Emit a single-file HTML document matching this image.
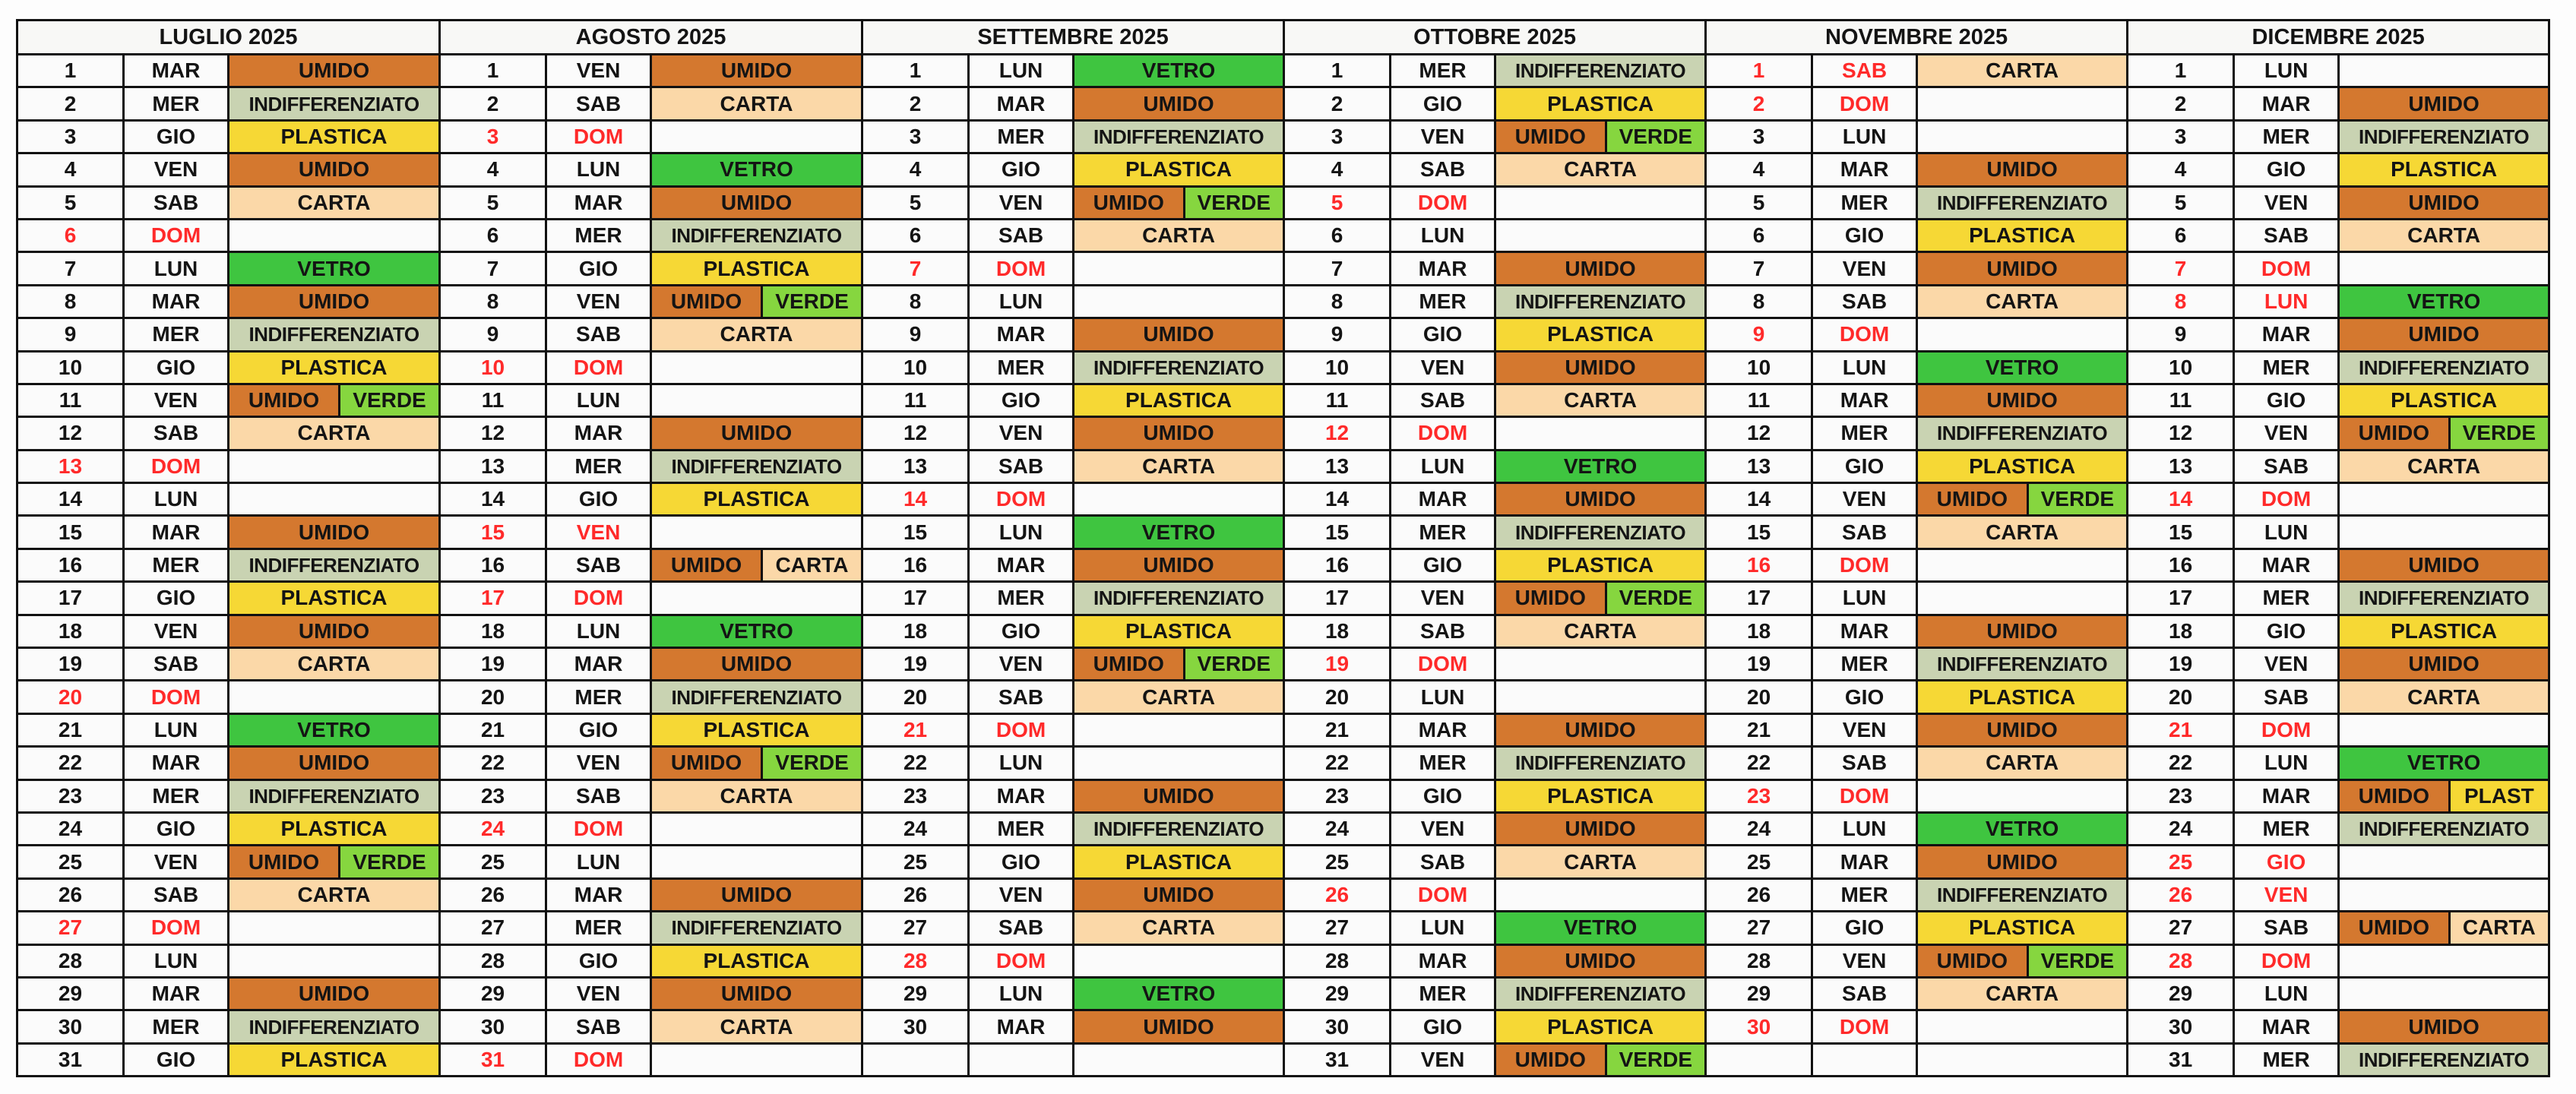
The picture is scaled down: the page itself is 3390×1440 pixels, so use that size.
<!DOCTYPE html>
<html><head><meta charset="utf-8"><style>
html,body{margin:0;padding:0;background:#fdfdfd;width:3390px;height:1440px;overflow:hidden}
table{position:absolute;left:21px;top:25px;width:3333px;height:1390px;border-collapse:collapse;table-layout:fixed;font-family:"Liberation Sans Narrow","Liberation Sans",sans-serif;font-weight:bold;color:#141414}
td{border:3px solid #111;padding:0;text-align:center;font-size:28px;line-height:1;overflow:hidden;white-space:nowrap;background:#fbfbfb}
tr{height:43.4px}
tr.h{height:45px}
tr.h td{font-size:29px;background:#f8f8f6}
.r{color:#ff2a2a}
.u{background:#d4782f}
.i{background:#c9d3b2;font-size:26px;letter-spacing:-0.5px}
.p{background:#f6d835}
.c{background:#fbd8a8}
.v{background:#3fc540}
.g{background:#86d63f}
.s{display:flex;height:100%;align-items:stretch}
.s b{display:flex;align-items:center;justify-content:center;flex:0 0 52%}
.s b+b{flex:1;border-left:3px solid #111}
</style></head><body>
<table>
<colgroup>
<col style="width:140px"><col style="width:138px"><col style="width:278px">
<col style="width:140px"><col style="width:138px"><col style="width:278px">
<col style="width:140px"><col style="width:138px"><col style="width:277px">
<col style="width:140px"><col style="width:138px"><col style="width:277px">
<col style="width:140px"><col style="width:138px"><col style="width:277px">
<col style="width:140px"><col style="width:138px"><col style="width:277px">
</colgroup>
<tr class="h"><td colspan="3">LUGLIO 2025</td><td colspan="3">AGOSTO 2025</td><td colspan="3">SETTEMBRE 2025</td><td colspan="3">OTTOBRE 2025</td><td colspan="3">NOVEMBRE 2025</td><td colspan="3">DICEMBRE 2025</td></tr>
<tr><td>1</td><td>MAR</td><td class="u">UMIDO</td><td>1</td><td>VEN</td><td class="u">UMIDO</td><td>1</td><td>LUN</td><td class="v">VETRO</td><td>1</td><td>MER</td><td class="i">INDIFFERENZIATO</td><td class="r">1</td><td class="r">SAB</td><td class="c">CARTA</td><td>1</td><td>LUN</td><td></td></tr>
<tr><td>2</td><td>MER</td><td class="i">INDIFFERENZIATO</td><td>2</td><td>SAB</td><td class="c">CARTA</td><td>2</td><td>MAR</td><td class="u">UMIDO</td><td>2</td><td>GIO</td><td class="p">PLASTICA</td><td class="r">2</td><td class="r">DOM</td><td></td><td>2</td><td>MAR</td><td class="u">UMIDO</td></tr>
<tr><td>3</td><td>GIO</td><td class="p">PLASTICA</td><td class="r">3</td><td class="r">DOM</td><td></td><td>3</td><td>MER</td><td class="i">INDIFFERENZIATO</td><td>3</td><td>VEN</td><td><div class="s"><b class="u">UMIDO</b><b class="g">VERDE</b></div></td><td>3</td><td>LUN</td><td></td><td>3</td><td>MER</td><td class="i">INDIFFERENZIATO</td></tr>
<tr><td>4</td><td>VEN</td><td class="u">UMIDO</td><td>4</td><td>LUN</td><td class="v">VETRO</td><td>4</td><td>GIO</td><td class="p">PLASTICA</td><td>4</td><td>SAB</td><td class="c">CARTA</td><td>4</td><td>MAR</td><td class="u">UMIDO</td><td>4</td><td>GIO</td><td class="p">PLASTICA</td></tr>
<tr><td>5</td><td>SAB</td><td class="c">CARTA</td><td>5</td><td>MAR</td><td class="u">UMIDO</td><td>5</td><td>VEN</td><td><div class="s"><b class="u">UMIDO</b><b class="g">VERDE</b></div></td><td class="r">5</td><td class="r">DOM</td><td></td><td>5</td><td>MER</td><td class="i">INDIFFERENZIATO</td><td>5</td><td>VEN</td><td class="u">UMIDO</td></tr>
<tr><td class="r">6</td><td class="r">DOM</td><td></td><td>6</td><td>MER</td><td class="i">INDIFFERENZIATO</td><td>6</td><td>SAB</td><td class="c">CARTA</td><td>6</td><td>LUN</td><td></td><td>6</td><td>GIO</td><td class="p">PLASTICA</td><td>6</td><td>SAB</td><td class="c">CARTA</td></tr>
<tr><td>7</td><td>LUN</td><td class="v">VETRO</td><td>7</td><td>GIO</td><td class="p">PLASTICA</td><td class="r">7</td><td class="r">DOM</td><td></td><td>7</td><td>MAR</td><td class="u">UMIDO</td><td>7</td><td>VEN</td><td class="u">UMIDO</td><td class="r">7</td><td class="r">DOM</td><td></td></tr>
<tr><td>8</td><td>MAR</td><td class="u">UMIDO</td><td>8</td><td>VEN</td><td><div class="s"><b class="u">UMIDO</b><b class="g">VERDE</b></div></td><td>8</td><td>LUN</td><td></td><td>8</td><td>MER</td><td class="i">INDIFFERENZIATO</td><td>8</td><td>SAB</td><td class="c">CARTA</td><td class="r">8</td><td class="r">LUN</td><td class="v">VETRO</td></tr>
<tr><td>9</td><td>MER</td><td class="i">INDIFFERENZIATO</td><td>9</td><td>SAB</td><td class="c">CARTA</td><td>9</td><td>MAR</td><td class="u">UMIDO</td><td>9</td><td>GIO</td><td class="p">PLASTICA</td><td class="r">9</td><td class="r">DOM</td><td></td><td>9</td><td>MAR</td><td class="u">UMIDO</td></tr>
<tr><td>10</td><td>GIO</td><td class="p">PLASTICA</td><td class="r">10</td><td class="r">DOM</td><td></td><td>10</td><td>MER</td><td class="i">INDIFFERENZIATO</td><td>10</td><td>VEN</td><td class="u">UMIDO</td><td>10</td><td>LUN</td><td class="v">VETRO</td><td>10</td><td>MER</td><td class="i">INDIFFERENZIATO</td></tr>
<tr><td>11</td><td>VEN</td><td><div class="s"><b class="u">UMIDO</b><b class="g">VERDE</b></div></td><td>11</td><td>LUN</td><td></td><td>11</td><td>GIO</td><td class="p">PLASTICA</td><td>11</td><td>SAB</td><td class="c">CARTA</td><td>11</td><td>MAR</td><td class="u">UMIDO</td><td>11</td><td>GIO</td><td class="p">PLASTICA</td></tr>
<tr><td>12</td><td>SAB</td><td class="c">CARTA</td><td>12</td><td>MAR</td><td class="u">UMIDO</td><td>12</td><td>VEN</td><td class="u">UMIDO</td><td class="r">12</td><td class="r">DOM</td><td></td><td>12</td><td>MER</td><td class="i">INDIFFERENZIATO</td><td>12</td><td>VEN</td><td><div class="s"><b class="u">UMIDO</b><b class="g">VERDE</b></div></td></tr>
<tr><td class="r">13</td><td class="r">DOM</td><td></td><td>13</td><td>MER</td><td class="i">INDIFFERENZIATO</td><td>13</td><td>SAB</td><td class="c">CARTA</td><td>13</td><td>LUN</td><td class="v">VETRO</td><td>13</td><td>GIO</td><td class="p">PLASTICA</td><td>13</td><td>SAB</td><td class="c">CARTA</td></tr>
<tr><td>14</td><td>LUN</td><td></td><td>14</td><td>GIO</td><td class="p">PLASTICA</td><td class="r">14</td><td class="r">DOM</td><td></td><td>14</td><td>MAR</td><td class="u">UMIDO</td><td>14</td><td>VEN</td><td><div class="s"><b class="u">UMIDO</b><b class="g">VERDE</b></div></td><td class="r">14</td><td class="r">DOM</td><td></td></tr>
<tr><td>15</td><td>MAR</td><td class="u">UMIDO</td><td class="r">15</td><td class="r">VEN</td><td></td><td>15</td><td>LUN</td><td class="v">VETRO</td><td>15</td><td>MER</td><td class="i">INDIFFERENZIATO</td><td>15</td><td>SAB</td><td class="c">CARTA</td><td>15</td><td>LUN</td><td></td></tr>
<tr><td>16</td><td>MER</td><td class="i">INDIFFERENZIATO</td><td>16</td><td>SAB</td><td><div class="s"><b class="u">UMIDO</b><b class="c">CARTA</b></div></td><td>16</td><td>MAR</td><td class="u">UMIDO</td><td>16</td><td>GIO</td><td class="p">PLASTICA</td><td class="r">16</td><td class="r">DOM</td><td></td><td>16</td><td>MAR</td><td class="u">UMIDO</td></tr>
<tr><td>17</td><td>GIO</td><td class="p">PLASTICA</td><td class="r">17</td><td class="r">DOM</td><td></td><td>17</td><td>MER</td><td class="i">INDIFFERENZIATO</td><td>17</td><td>VEN</td><td><div class="s"><b class="u">UMIDO</b><b class="g">VERDE</b></div></td><td>17</td><td>LUN</td><td></td><td>17</td><td>MER</td><td class="i">INDIFFERENZIATO</td></tr>
<tr><td>18</td><td>VEN</td><td class="u">UMIDO</td><td>18</td><td>LUN</td><td class="v">VETRO</td><td>18</td><td>GIO</td><td class="p">PLASTICA</td><td>18</td><td>SAB</td><td class="c">CARTA</td><td>18</td><td>MAR</td><td class="u">UMIDO</td><td>18</td><td>GIO</td><td class="p">PLASTICA</td></tr>
<tr><td>19</td><td>SAB</td><td class="c">CARTA</td><td>19</td><td>MAR</td><td class="u">UMIDO</td><td>19</td><td>VEN</td><td><div class="s"><b class="u">UMIDO</b><b class="g">VERDE</b></div></td><td class="r">19</td><td class="r">DOM</td><td></td><td>19</td><td>MER</td><td class="i">INDIFFERENZIATO</td><td>19</td><td>VEN</td><td class="u">UMIDO</td></tr>
<tr><td class="r">20</td><td class="r">DOM</td><td></td><td>20</td><td>MER</td><td class="i">INDIFFERENZIATO</td><td>20</td><td>SAB</td><td class="c">CARTA</td><td>20</td><td>LUN</td><td></td><td>20</td><td>GIO</td><td class="p">PLASTICA</td><td>20</td><td>SAB</td><td class="c">CARTA</td></tr>
<tr><td>21</td><td>LUN</td><td class="v">VETRO</td><td>21</td><td>GIO</td><td class="p">PLASTICA</td><td class="r">21</td><td class="r">DOM</td><td></td><td>21</td><td>MAR</td><td class="u">UMIDO</td><td>21</td><td>VEN</td><td class="u">UMIDO</td><td class="r">21</td><td class="r">DOM</td><td></td></tr>
<tr><td>22</td><td>MAR</td><td class="u">UMIDO</td><td>22</td><td>VEN</td><td><div class="s"><b class="u">UMIDO</b><b class="g">VERDE</b></div></td><td>22</td><td>LUN</td><td></td><td>22</td><td>MER</td><td class="i">INDIFFERENZIATO</td><td>22</td><td>SAB</td><td class="c">CARTA</td><td>22</td><td>LUN</td><td class="v">VETRO</td></tr>
<tr><td>23</td><td>MER</td><td class="i">INDIFFERENZIATO</td><td>23</td><td>SAB</td><td class="c">CARTA</td><td>23</td><td>MAR</td><td class="u">UMIDO</td><td>23</td><td>GIO</td><td class="p">PLASTICA</td><td class="r">23</td><td class="r">DOM</td><td></td><td>23</td><td>MAR</td><td><div class="s"><b class="u">UMIDO</b><b class="p">PLAST</b></div></td></tr>
<tr><td>24</td><td>GIO</td><td class="p">PLASTICA</td><td class="r">24</td><td class="r">DOM</td><td></td><td>24</td><td>MER</td><td class="i">INDIFFERENZIATO</td><td>24</td><td>VEN</td><td class="u">UMIDO</td><td>24</td><td>LUN</td><td class="v">VETRO</td><td>24</td><td>MER</td><td class="i">INDIFFERENZIATO</td></tr>
<tr><td>25</td><td>VEN</td><td><div class="s"><b class="u">UMIDO</b><b class="g">VERDE</b></div></td><td>25</td><td>LUN</td><td></td><td>25</td><td>GIO</td><td class="p">PLASTICA</td><td>25</td><td>SAB</td><td class="c">CARTA</td><td>25</td><td>MAR</td><td class="u">UMIDO</td><td class="r">25</td><td class="r">GIO</td><td></td></tr>
<tr><td>26</td><td>SAB</td><td class="c">CARTA</td><td>26</td><td>MAR</td><td class="u">UMIDO</td><td>26</td><td>VEN</td><td class="u">UMIDO</td><td class="r">26</td><td class="r">DOM</td><td></td><td>26</td><td>MER</td><td class="i">INDIFFERENZIATO</td><td class="r">26</td><td class="r">VEN</td><td></td></tr>
<tr><td class="r">27</td><td class="r">DOM</td><td></td><td>27</td><td>MER</td><td class="i">INDIFFERENZIATO</td><td>27</td><td>SAB</td><td class="c">CARTA</td><td>27</td><td>LUN</td><td class="v">VETRO</td><td>27</td><td>GIO</td><td class="p">PLASTICA</td><td>27</td><td>SAB</td><td><div class="s"><b class="u">UMIDO</b><b class="c">CARTA</b></div></td></tr>
<tr><td>28</td><td>LUN</td><td></td><td>28</td><td>GIO</td><td class="p">PLASTICA</td><td class="r">28</td><td class="r">DOM</td><td></td><td>28</td><td>MAR</td><td class="u">UMIDO</td><td>28</td><td>VEN</td><td><div class="s"><b class="u">UMIDO</b><b class="g">VERDE</b></div></td><td class="r">28</td><td class="r">DOM</td><td></td></tr>
<tr><td>29</td><td>MAR</td><td class="u">UMIDO</td><td>29</td><td>VEN</td><td class="u">UMIDO</td><td>29</td><td>LUN</td><td class="v">VETRO</td><td>29</td><td>MER</td><td class="i">INDIFFERENZIATO</td><td>29</td><td>SAB</td><td class="c">CARTA</td><td>29</td><td>LUN</td><td></td></tr>
<tr><td>30</td><td>MER</td><td class="i">INDIFFERENZIATO</td><td>30</td><td>SAB</td><td class="c">CARTA</td><td>30</td><td>MAR</td><td class="u">UMIDO</td><td>30</td><td>GIO</td><td class="p">PLASTICA</td><td class="r">30</td><td class="r">DOM</td><td></td><td>30</td><td>MAR</td><td class="u">UMIDO</td></tr>
<tr><td>31</td><td>GIO</td><td class="p">PLASTICA</td><td class="r">31</td><td class="r">DOM</td><td></td><td></td><td></td><td></td><td>31</td><td>VEN</td><td><div class="s"><b class="u">UMIDO</b><b class="g">VERDE</b></div></td><td></td><td></td><td></td><td>31</td><td>MER</td><td class="i">INDIFFERENZIATO</td></tr>
</table>
</body></html>
